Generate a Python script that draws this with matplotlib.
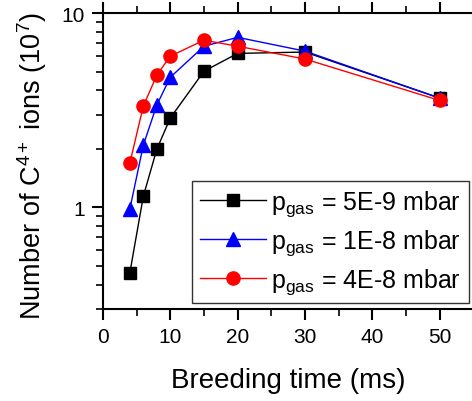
import matplotlib
matplotlib.use('Agg')
import matplotlib.pyplot as plt
from matplotlib.ticker import FixedLocator, NullFormatter

plt.rcParams['font.family'] = ['Liberation Sans', 'DejaVu Sans']
plt.rcParams['mathtext.fontset'] = 'custom'
plt.rcParams['mathtext.rm'] = 'Liberation Sans'
plt.rcParams['mathtext.it'] = 'Liberation Sans'

# breeding time (ms)
t = [4, 6, 8, 10, 15, 20, 30, 50]
# number of C4+ ions (1e7)
n_5e9 = [0.46, 1.14, 1.99, 2.88, 5.02, 6.2, 6.3, 3.65]
n_1e8 = [0.98, 2.09, 3.36, 4.67, 6.75, 7.5, 6.37, 3.65]
n_4e8 = [1.69, 3.32, 4.79, 6.0, 7.25, 6.75, 5.8, 3.55]
labels = [r'p$_{\rm gas}$ = 5E-9 mbar', r'p$_{\rm gas}$ = 1E-8 mbar', r'p$_{\rm gas}$ = 4E-8 mbar']

fig = plt.figure(figsize=(4.72, 4.02), dpi=100)
ax = fig.add_axes([0.218, 0.229, 0.785, 0.736])

ax.plot(t, n_5e9, color='black', lw=1, marker='s', ms=8.5, label=labels[0])
ax.plot(t, n_1e8, color='blue', lw=1, marker='^', ms=10, label=labels[1])
ax.plot(t, n_4e8, color='red', lw=1, marker='o', ms=9.5, label=labels[2])

ax.set_yscale('log')
ax.set_xlim(0, 55)
ax.set_ylim(0.3, 10)
ax.set_xticks([0, 10, 20, 30, 40, 50])
ax.set_xticks([5, 15, 25, 35, 45], minor=True)
ax.yaxis.set_major_locator(FixedLocator([1, 10]))
ax.yaxis.set_minor_locator(FixedLocator([0.3, 0.4, 0.5, 0.6, 0.7, 0.8, 0.9, 2, 3, 4, 5, 6, 7, 8, 9]))
ax.yaxis.set_minor_formatter(NullFormatter())
ax.set_yticklabels(['1', '10'])

for s in ax.spines.values():
    s.set_linewidth(1.5)
ax.tick_params(which='major', direction='out', length=8, width=1.5, labelsize=15, top=True, pad=5)
ax.tick_params(which='minor', direction='out', length=5, width=1.2, top=True)

ax.set_xlabel('Breeding time (ms)', fontsize=20, labelpad=15)
ax.set_ylabel(r'Number of C$^{4+}$ ions (10$^{7}$)', fontsize=19.5)
ax.yaxis.set_label_coords(-0.146, 0.485)

leg = ax.legend(loc='lower right', fontsize=18, frameon=True, fancybox=False,
                edgecolor='black', borderpad=0.3, handlelength=2.65, handletextpad=0.2,
                labelspacing=0.36, borderaxespad=0, bbox_to_anchor=(0.987, 0.02))
leg.get_frame().set_linewidth(1)

fig.savefig('out.png', dpi=100)
